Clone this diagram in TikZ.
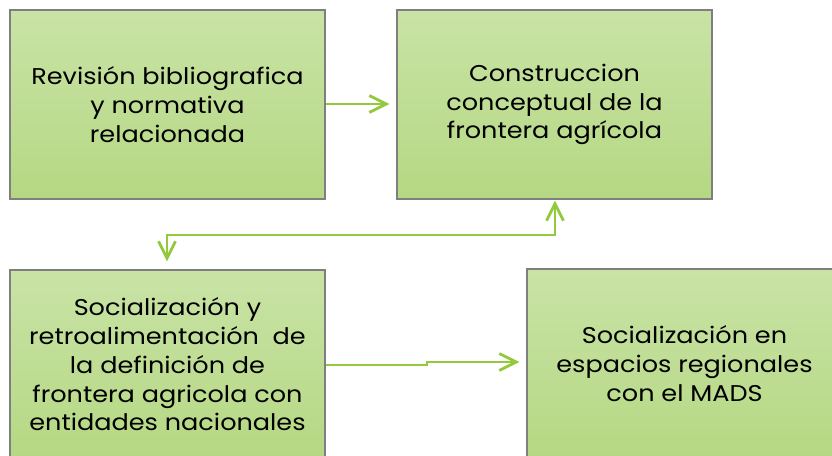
\documentclass[tikz,border=0pt]{standalone}
\usepackage{fontspec}
\setmainfont{Poppins}[FakeStretch=1.12]
\usetikzlibrary{arrows.meta}
\definecolor{boxtop}{HTML}{C9E3A6}
\definecolor{boxbot}{HTML}{B5D883}
\definecolor{boxline}{HTML}{7F7F7F}
\definecolor{arrowgreen}{HTML}{92CA3C}
\tikzset{
  stagebox/.style={draw=boxline, line width=1.2pt, top color=boxtop, bottom color=boxbot,
    minimum width=315pt, minimum height=189pt, inner sep=0pt, align=center,
    font=\fontsize{22.8}{28.8}\selectfont},
  flow/.style={draw=arrowgreen, line width=2.8pt, -{Straight Barb[length=17pt,width=17pt,line width=2.8pt]}},
  flowboth/.style={draw=arrowgreen, line width=2.8pt, {Straight Barb[length=17pt,width=17pt,line width=2.8pt]}-{Straight Barb[length=17pt,width=17pt,line width=2.8pt]}}
}
\begin{document}
\begin{tikzpicture}[x=1pt,y=-1pt]
\useasboundingbox (0,0) rectangle (832,455);
\clip (0,0) rectangle (832,455);
\fill[white] (0,0) rectangle (832,455);
\node[stagebox] (b1) at (167.5,104.5) {Revisión bibliografica\\y normativa\\relacionada};
\node[stagebox] (b2) at (554.5,104.5) {Construccion\\conceptual de la\\frontera agrícola};
\node[stagebox] (b3) at (167.5,364.5) {Socialización y\\retroalimentación~~de\\la definición de\\frontera agricola con\\entidades nacionales};
\node[stagebox] (b4) at (684.5,363.5) {Socialización en\\espacios regionales\\con el MADS};
% arrows
\draw[flow, shorten >=7pt] (b1.east |- 0,104) -- (b2.west |- 0,104);
\coordinate (up) at (555,199);
\coordinate (dn) at (167,270);
\draw[flowboth, shorten <=1pt, shorten >=8pt] (b2.south -| up) -- (555,235) -- (167,235) -- (b3.north -| dn);
\coordinate (m1) at (427,365);
\coordinate (m2) at (427,362);
\draw[flow, shorten >=7pt] (b3.east |- m1) -- (m1) -- (m2) -- (b4.west |- m2);
\end{tikzpicture}
\end{document}
